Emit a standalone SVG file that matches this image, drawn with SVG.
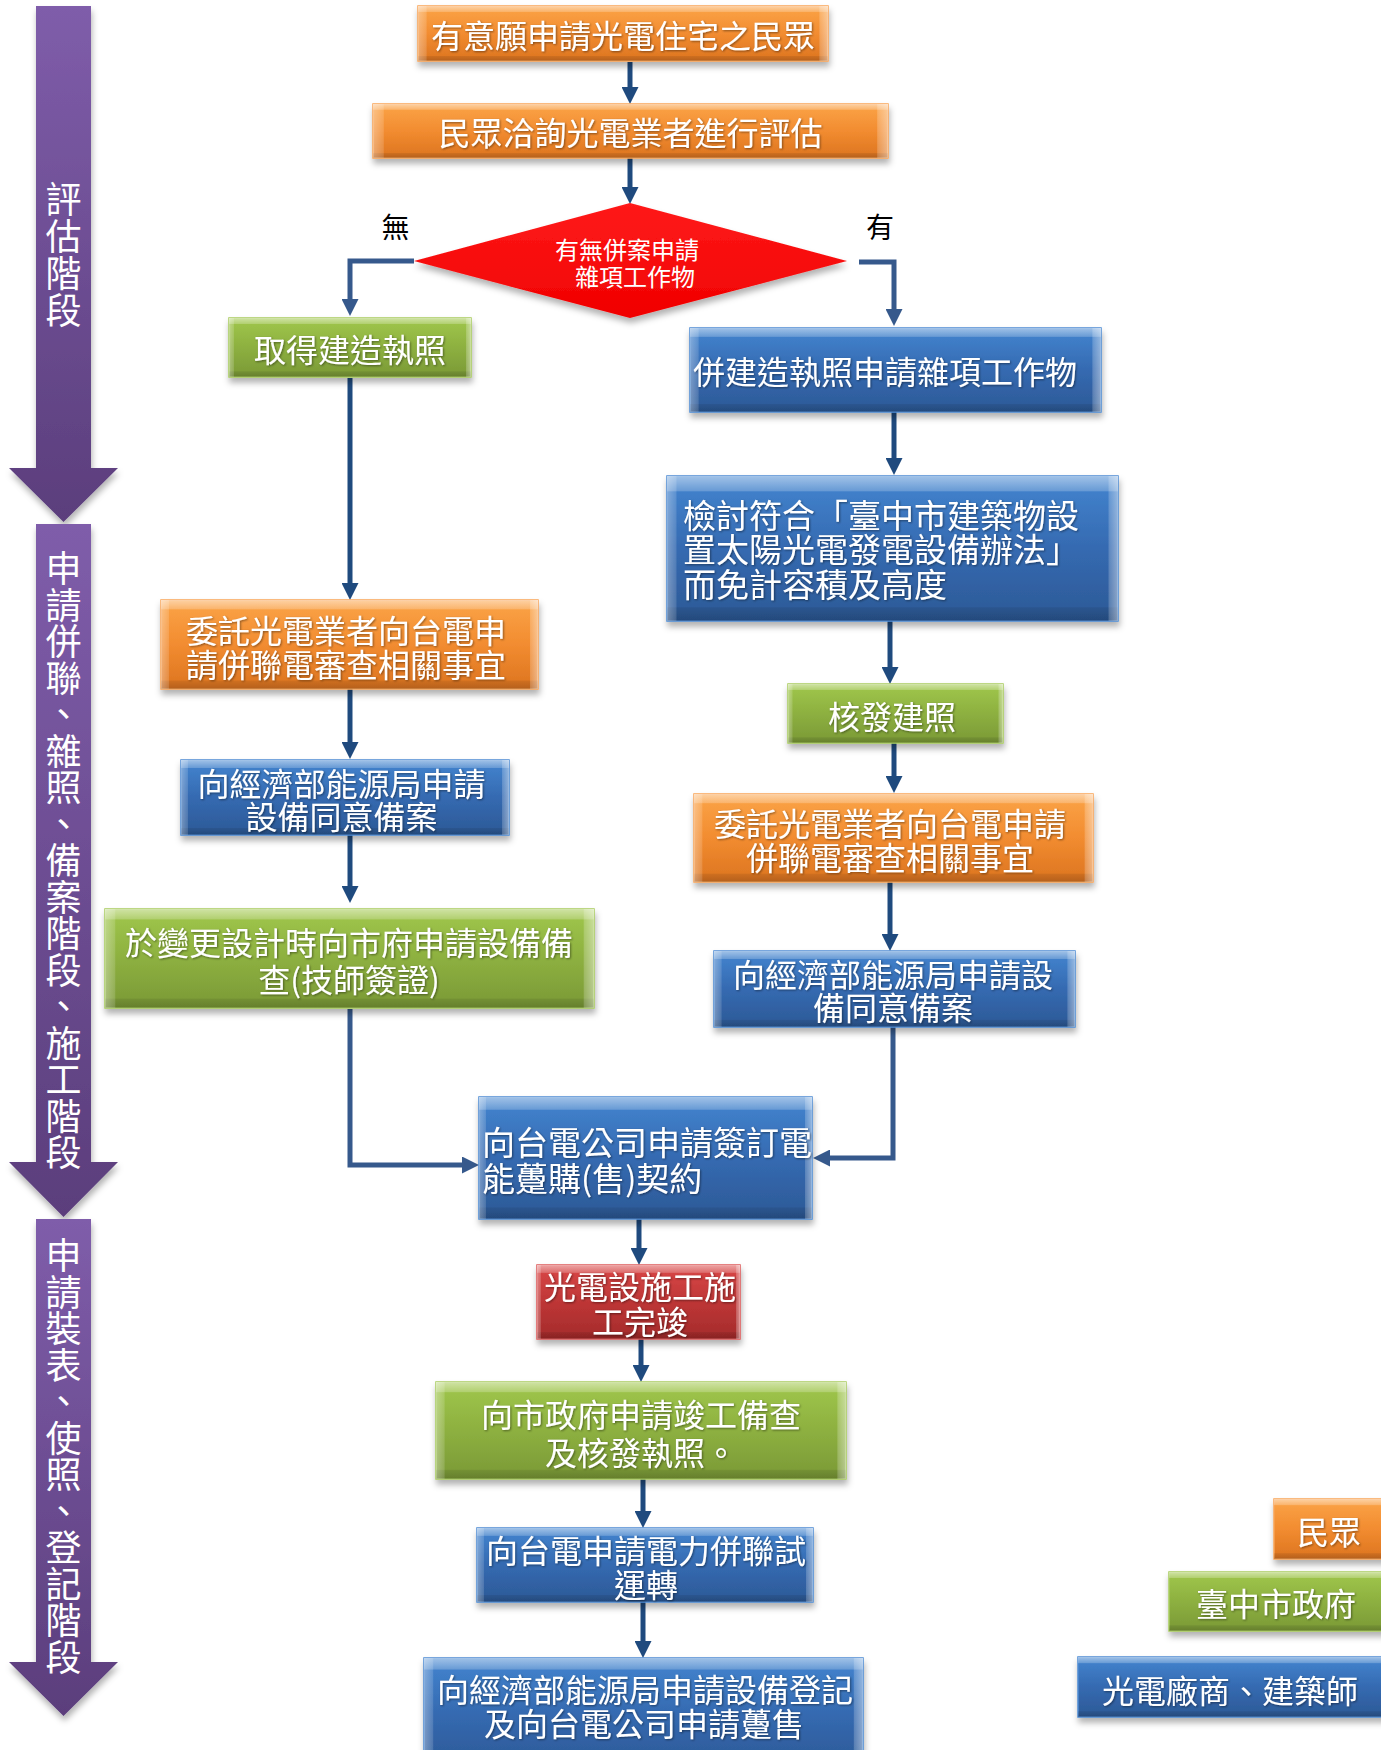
<svg xmlns="http://www.w3.org/2000/svg" width="1381" height="1750" viewBox="0 0 1381 1750">
<defs>
<linearGradient id="gOr" x1="0" y1="0" x2="0" y2="1"><stop offset="0" stop-color="#FBA448"/><stop offset="0.5" stop-color="#F28C30"/><stop offset="1" stop-color="#DC7420"/></linearGradient>
<linearGradient id="gGr" x1="0" y1="0" x2="0" y2="1"><stop offset="0" stop-color="#A0C74B"/><stop offset="0.5" stop-color="#8DB040"/><stop offset="1" stop-color="#7A9936"/></linearGradient>
<linearGradient id="gBl" x1="0" y1="0" x2="0" y2="1"><stop offset="0" stop-color="#4385D0"/><stop offset="0.5" stop-color="#356AB1"/><stop offset="1" stop-color="#2C5996"/></linearGradient>
<linearGradient id="gRd" x1="0" y1="0" x2="0" y2="1"><stop offset="0" stop-color="#DA4848"/><stop offset="0.5" stop-color="#BE3636"/><stop offset="1" stop-color="#A42B2B"/></linearGradient>
<linearGradient id="gPu" x1="0" y1="0" x2="0" y2="1"><stop offset="0" stop-color="#7F5DAA"/><stop offset="1" stop-color="#5B3E7C"/></linearGradient>
<linearGradient id="gDi" x1="0" y1="0" x2="0" y2="1"><stop offset="0" stop-color="#FF1A1A"/><stop offset="1" stop-color="#F00000"/></linearGradient>
<linearGradient id="bevV" x1="0" y1="0" x2="0" y2="1">
<stop offset="0" stop-color="#fff" stop-opacity="0.5"/><stop offset="0.1" stop-color="#fff" stop-opacity="0.22"/><stop offset="0.11" stop-color="#fff" stop-opacity="0"/>
<stop offset="0.9" stop-color="#000" stop-opacity="0"/><stop offset="0.91" stop-color="#000" stop-opacity="0.08"/><stop offset="1" stop-color="#000" stop-opacity="0.18"/></linearGradient>
<linearGradient id="bevH" x1="0" y1="0" x2="1" y2="0">
<stop offset="0" stop-color="#fff" stop-opacity="0.35"/><stop offset="0.02" stop-color="#fff" stop-opacity="0.15"/><stop offset="0.022" stop-color="#fff" stop-opacity="0"/>
<stop offset="0.978" stop-color="#fff" stop-opacity="0"/><stop offset="0.98" stop-color="#fff" stop-opacity="0.2"/><stop offset="1" stop-color="#fff" stop-opacity="0.45"/></linearGradient>
<filter id="sh" x="-10%" y="-20%" width="120%" height="150%"><feDropShadow dx="1" dy="5" stdDeviation="3" flood-color="#000" flood-opacity="0.3"/></filter>
<filter id="ts" x="-5%" y="-20%" width="110%" height="140%"><feDropShadow dx="1" dy="1" stdDeviation="0.8" flood-color="#000" flood-opacity="0.45"/></filter>
<marker id="ah" viewBox="0 0 10 10" refX="5" refY="5" markerWidth="17" markerHeight="17" markerUnits="userSpaceOnUse" orient="auto"><path d="M0,0 L10,5 L0,10 Z" fill="#1F4A7E"/></marker>
<marker id="ah2" viewBox="0 0 10 10" refX="5" refY="5" markerWidth="17" markerHeight="17" markerUnits="userSpaceOnUse" orient="auto"><path d="M0,0 L10,5 L0,10 Z" fill="#36598C"/></marker>
<style>
text{font-family:"Noto Sans CJK TC","Noto Sans CJK SC",sans-serif;}
.t{fill:#fff;font-size:32px;text-anchor:middle;dominant-baseline:central;filter:url(#ts);}
.tl{fill:#fff;font-size:33px;text-anchor:start;dominant-baseline:central;filter:url(#ts);}
.vt{fill:#fff;font-size:36px;text-anchor:middle;dominant-baseline:central;}
.lb{fill:#000;font-size:28px;text-anchor:middle;dominant-baseline:central;}
.dt{fill:#fff;font-size:24px;text-anchor:middle;dominant-baseline:central;}
.or{fill:url(#gOr);stroke:#F9A457;stroke-width:1.5;filter:url(#sh);}
.gr{fill:url(#gGr);stroke:#A8CC5E;stroke-width:1.5;filter:url(#sh);}
.bl{fill:url(#gBl);stroke:#4C8AD2;stroke-width:1.5;filter:url(#sh);}
.rd{fill:url(#gRd);stroke:#DD5A5A;stroke-width:1.5;filter:url(#sh);}
.bv{fill:url(#bevV);}
.bh{fill:url(#bevH);}
.pu{fill:url(#gPu);filter:url(#sh);}
.c{fill:none;stroke:#1F4A7E;stroke-width:5;marker-end:url(#ah);}
.c2{fill:none;stroke:#36598C;stroke-width:5;marker-end:url(#ah2);}
</style>
</defs>
<rect width="1381" height="1750" fill="#fff"/>

<g id="stage1">
<polygon class="pu" points="36,6 91,6 91,468 118,468 63.5,522 9,468 36,468"/>
<text class="vt"><tspan x="63.5" y="197">評</tspan><tspan x="63.5" y="234">估</tspan><tspan x="63.5" y="271">階</tspan><tspan x="63.5" y="308">段</tspan></text>
</g>
<g id="stage2">
<polygon class="pu" points="36,524 91,524 91,1162 118,1162 63.5,1217 9,1162 36,1162"/>
<text class="vt"><tspan x="63.5" y="566">申</tspan><tspan x="63.5" y="602.5">請</tspan><tspan x="63.5" y="639">併</tspan><tspan x="63.5" y="675.5">聯</tspan><tspan x="63.5" y="712">、</tspan><tspan x="63.5" y="748.5">雜</tspan><tspan x="63.5" y="785">照</tspan><tspan x="63.5" y="821.5">、</tspan><tspan x="63.5" y="858">備</tspan><tspan x="63.5" y="894.5">案</tspan><tspan x="63.5" y="931">階</tspan><tspan x="63.5" y="967.5">段</tspan><tspan x="63.5" y="1004">、</tspan><tspan x="63.5" y="1040.5">施</tspan><tspan x="63.5" y="1077">工</tspan><tspan x="63.5" y="1113.5">階</tspan><tspan x="63.5" y="1150">段</tspan></text>
</g>
<g id="stage3">
<polygon class="pu" points="36,1219 91,1219 91,1662 118,1662 63.5,1716 9,1662 36,1662"/>
<text class="vt"><tspan x="63.5" y="1253">申</tspan><tspan x="63.5" y="1289.5">請</tspan><tspan x="63.5" y="1326">裝</tspan><tspan x="63.5" y="1362.5">表</tspan><tspan x="63.5" y="1399">、</tspan><tspan x="63.5" y="1435.5">使</tspan><tspan x="63.5" y="1472">照</tspan><tspan x="63.5" y="1508.5">、</tspan><tspan x="63.5" y="1545">登</tspan><tspan x="63.5" y="1581.5">記</tspan><tspan x="63.5" y="1618">階</tspan><tspan x="63.5" y="1654.5">段</tspan></text>
</g>

<g id="connectors">
<path class="c" d="M630,62 V95.5"/>
<path class="c" d="M630,158 V195.5"/>
<path class="c2" d="M414,261 H350 V307.5"/>
<path class="c2" d="M859,262 H894 V317.5"/>
<path class="c" d="M350,378 V591.5"/>
<path class="c" d="M894,412 V466.5"/>
<path class="c" d="M890,621 V675.5"/>
<path class="c" d="M894,743 V784.5"/>
<path class="c" d="M890,882 V942.5"/>
<path class="c" d="M350,689 V750.5"/>
<path class="c" d="M350,835 V894.5"/>
<path class="c2" d="M350,1009 V1165 H470.5"/>
<path class="c2" d="M893,1027 V1158 H821.5"/>
<path class="c" d="M639,1219 V1256.5"/>
<path class="c" d="M641,1339 V1373.5"/>
<path class="c" d="M643,1479 V1519.5"/>
<path class="c" d="M643,1602 V1649.5"/>
</g>

<g id="n1"><rect class="or" x="418" y="6" width="410" height="55"/><rect class="bv" x="418" y="6" width="410" height="55"/><rect class="bh" x="418" y="6" width="410" height="55"/>
<text class="t" x="623" y="33.5">有意願申請光電住宅之民眾</text></g>

<g id="n2"><rect class="or" x="373" y="104" width="515" height="54"/><rect class="bv" x="373" y="104" width="515" height="54"/><rect class="bh" x="373" y="104" width="515" height="54"/>
<text class="t" x="630.5" y="131">民眾洽詢光電業者進行評估</text></g>

<g id="decision"><polygon points="630,203 847,261 630,318 414,261" fill="url(#gDi)" filter="url(#sh)"/>
<text class="dt" x="627" y="248">有無併案申請</text><text class="dt" x="635" y="275">雜項工作物</text></g>
<g id="label-no"><text class="lb" x="395.5" y="226">無</text></g>
<g id="label-yes"><text class="lb" x="880" y="226">有</text></g>

<g id="n3"><rect class="gr" x="229" y="318" width="242" height="59"/><rect class="bv" x="229" y="318" width="242" height="59"/><rect class="bh" x="229" y="318" width="242" height="59"/>
<text class="t" x="350" y="347.5">取得建造執照</text></g>

<g id="n4"><rect class="bl" x="690" y="328" width="411" height="84"/><rect class="bv" x="690" y="328" width="411" height="84"/><rect class="bh" x="690" y="328" width="411" height="84"/>
<text class="tl" x="693" y="370" style="font-size:32px">併建造執照申請雜項工作物</text></g>

<g id="n5"><rect class="bl" x="667" y="476" width="451" height="145"/><rect class="bv" x="667" y="476" width="451" height="145"/><rect class="bh" x="667" y="476" width="451" height="145"/>
<text class="tl" x="683" y="514">檢討符合「臺中市建築物設</text><text class="tl" x="683" y="547.5">置太陽光電發電設備辦法」</text><text class="tl" x="683" y="582.5">而免計容積及高度</text></g>

<g id="n6"><rect class="gr" x="788" y="684" width="215" height="59"/><rect class="bv" x="788" y="684" width="215" height="59"/><rect class="bh" x="788" y="684" width="215" height="59"/>
<text class="t" x="892" y="715">核發建照</text></g>

<g id="n7"><rect class="or" x="694" y="794" width="399" height="88"/><rect class="bv" x="694" y="794" width="399" height="88"/><rect class="bh" x="694" y="794" width="399" height="88"/>
<text class="t" x="890" y="822">委託光電業者向台電申請</text><text class="t" x="890" y="856">併聯電審查相關事宜</text></g>

<g id="n8"><rect class="bl" x="714" y="951" width="361" height="76"/><rect class="bv" x="714" y="951" width="361" height="76"/><rect class="bh" x="714" y="951" width="361" height="76"/>
<text class="t" x="893" y="972.5">向經濟部能源局申請設</text><text class="t" x="893" y="1006">備同意備案</text></g>

<g id="n9"><rect class="or" x="161" y="600" width="377" height="89"/><rect class="bv" x="161" y="600" width="377" height="89"/><rect class="bh" x="161" y="600" width="377" height="89"/>
<text class="t" x="346" y="629">委託光電業者向台電申</text><text class="t" x="346" y="662.5">請併聯電審查相關事宜</text></g>

<g id="n10"><rect class="bl" x="181" y="760" width="328" height="75"/><rect class="bv" x="181" y="760" width="328" height="75"/><rect class="bh" x="181" y="760" width="328" height="75"/>
<text class="t" x="341.5" y="781.5">向經濟部能源局申請</text><text class="t" x="341.5" y="815">設備同意備案</text></g>

<g id="n11"><rect class="gr" x="105" y="909" width="489" height="99"/><rect class="bv" x="105" y="909" width="489" height="99"/><rect class="bh" x="105" y="909" width="489" height="99"/>
<text class="t" x="349" y="941">於變更設計時向市府申請設備備</text><text class="t" x="349" y="978">查(技師簽證)</text></g>

<g id="n12"><rect class="bl" x="479" y="1097" width="333" height="122"/><rect class="bv" x="479" y="1097" width="333" height="122"/><rect class="bh" x="479" y="1097" width="333" height="122"/>
<text class="tl" x="482" y="1141">向台電公司申請簽訂電</text><text class="tl" x="482" y="1177">能躉購(售)契約</text></g>

<g id="n13"><rect class="rd" x="537" y="1265" width="203" height="74"/><rect class="bv" x="537" y="1265" width="203" height="74"/><rect class="bh" x="537" y="1265" width="203" height="74"/>
<text class="t" x="640" y="1285">光電設施工施</text><text class="t" x="640" y="1320">工完竣</text></g>

<g id="n14"><rect class="gr" x="436" y="1382" width="410" height="97"/><rect class="bv" x="436" y="1382" width="410" height="97"/><rect class="bh" x="436" y="1382" width="410" height="97"/>
<text class="t" x="641" y="1413">向市政府申請竣工備查</text><text class="t" x="641" y="1451">及核發執照。</text></g>

<g id="n15"><rect class="bl" x="477" y="1528" width="336" height="74"/><rect class="bv" x="477" y="1528" width="336" height="74"/><rect class="bh" x="477" y="1528" width="336" height="74"/>
<text class="t" x="646" y="1549">向台電申請電力併聯試</text><text class="t" x="646" y="1582.5">運轉</text></g>

<g id="n16"><rect class="bl" x="424" y="1658" width="439" height="110"/><rect class="bv" x="424" y="1658" width="439" height="110"/><rect class="bh" x="424" y="1658" width="439" height="110"/>
<text class="t" x="645" y="1688">向經濟部能源局申請設備登記</text><text class="t" x="644" y="1722">及向台電公司申請躉售</text></g>

<g id="legend-public"><rect class="or" x="1274" y="1499" width="125" height="60"/><rect class="bv" x="1274" y="1499" width="125" height="60"/>
<text class="t" x="1329" y="1530">民眾</text></g>
<g id="legend-city"><rect class="gr" x="1169" y="1572" width="230" height="59"/><rect class="bv" x="1169" y="1572" width="230" height="59"/>
<text class="t" x="1276" y="1602">臺中市政府</text></g>
<g id="legend-vendor"><rect class="bl" x="1078" y="1657" width="320" height="60"/><rect class="bv" x="1078" y="1657" width="320" height="60"/>
<text class="t" x="1230" y="1689">光電廠商、建築師</text></g>
</svg>
